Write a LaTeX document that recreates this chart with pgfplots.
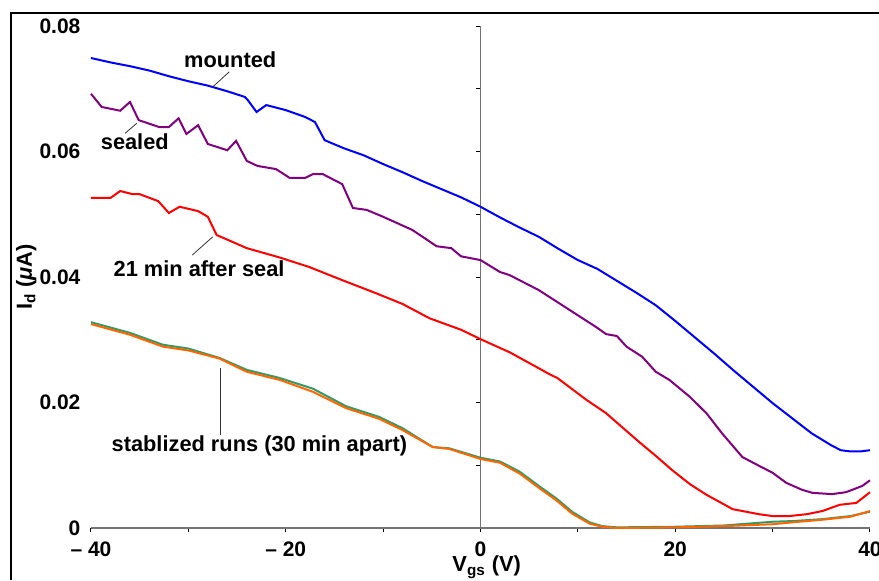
\documentclass[border=0pt]{standalone}
\usepackage{fontspec}
\setmainfont{Liberation Sans}
\usepackage{pgfplots}
\pgfplotsset{compat=1.18}
\definecolor{cblue}{RGB}{0,0,255}
\definecolor{cpurple}{RGB}{128,0,128}
\definecolor{cred}{RGB}{255,0,0}
\definecolor{cgreen}{RGB}{51,153,102}
\definecolor{corange}{RGB}{255,102,0}
\begin{document}
\begin{tikzpicture}
\path[use as bounding box] (0,0) rectangle (439.5pt,290pt);
\draw[black, line width=1pt] (5.5pt,0) -- (5.5pt,283.5pt) -- (439.5pt,283.5pt);
\begin{axis}[
  at={(45.5pt,26pt)}, anchor=south west,
  scale only axis, width=389.5pt, height=251pt,
  xmin=-40, xmax=40, ymin=0, ymax=0.08,
  scaled y ticks=false, scaled x ticks=false,
  axis lines=middle,
  axis line style={-, gray!90!black, line width=0.8pt},
  hide obscured x ticks=false, hide obscured y ticks=false,
  tick align=outside,
  major tick length=2pt, minor tick length=2pt,
  tick style={black, line width=0.5pt},
  xtick={-40,-20,0,20,40},
  xticklabels={\textbf{– 40},\textbf{– 20},\textbf{0},\textbf{20},\textbf{40}},
  minor xtick={-30,-10,10,30},
  ytick={0,0.02,0.04,0.06,0.08},
  yticklabels={\textbf{0},\textbf{0.02},\textbf{0.04},\textbf{0.06},\textbf{0.08}},
  minor ytick={0.01,0.03,0.05,0.07},
  ticklabel style={font=\fontsize{10.5}{12}\selectfont},
  yticklabel style={anchor=east, xshift=-194.5pt},
  xticklabel style={anchor=north, yshift=-1.5pt},
  clip=false,
  every axis plot/.append style={line width=1pt, no markers},
]
% stablized run 1 (green)
\addplot[cgreen] coordinates {
(-40,0.0328) (-36,0.0311) (-32.6,0.0292) (-30,0.0286) (-26.8,0.0271) (-24,0.0252)
(-20.6,0.0239) (-17.2,0.0222) (-13.8,0.0194) (-10.4,0.0177) (-8,0.0159) (-4.9,0.0129)
(-3.2,0.0127) (0,0.0112) (2,0.0106) (4,0.0090) (6,0.0067) (7.8,0.0047) (9.4,0.0026)
(11.2,0.0009) (12.5,0.0003) (14,0.0001) (20,0.0002) (25,0.0004) (30,0.0010) (32,0.0011)
(35,0.0014) (38,0.0019) (40,0.0026)};
% stablized run 2 (orange)
\addplot[corange] coordinates {
(-40,0.0325) (-36,0.0308) (-32.6,0.0289) (-30,0.0283) (-26.8,0.0270) (-24,0.0249)
(-20.6,0.0236) (-17.2,0.0217) (-13.8,0.0191) (-10.4,0.0174) (-8,0.0156) (-4.9,0.0129)
(-3.2,0.0126) (0,0.0110) (2,0.0104) (4,0.0087) (6,0.0064) (7.8,0.0044) (9.4,0.0023)
(11.2,0.0007) (12.5,0.0002) (14,0.0000) (20,0.0001) (25,0.0003) (30,0.0006) (32,0.0009)
(35,0.0013) (38,0.0018) (40,0.0027)};
% 21 min after seal (red)
\addplot[cred] coordinates {
(-40,0.0526) (-38,0.0526) (-37,0.0537) (-35.7,0.0532) (-35,0.0532) (-33.1,0.0521)
(-32,0.0502) (-30.9,0.0512) (-29,0.0505) (-28,0.0496) (-27.1,0.0467) (-24,0.0446)
(-20.6,0.0431) (-17.6,0.0416) (-14.2,0.0395) (-10.7,0.0374) (-8,0.0357) (-5.2,0.0334)
(-2,0.0316) (0,0.0301) (3,0.0280) (5,0.0263) (7.1,0.0245) (7.9,0.0239) (10.9,0.0204)
(12.9,0.0183) (14.3,0.0164) (16.3,0.0137) (18,0.0115) (19.7,0.0092) (21.5,0.0070)
(23.2,0.0053) (24.5,0.0042) (25.9,0.0030) (28.6,0.0022) (30,0.0019) (31.7,0.0019)
(33.5,0.0022) (35.1,0.0027) (36.9,0.0037) (38.6,0.0040) (40,0.0057)};
% sealed (purple)
\addplot[cpurple] coordinates {
(-40,0.0692) (-38.9,0.0671) (-37,0.0665) (-36,0.0679) (-35.1,0.0650) (-33,0.0639)
(-32,0.0639) (-31,0.0653) (-30.2,0.0628) (-29,0.0642) (-28,0.0612) (-26,0.0602)
(-25.1,0.0617) (-24,0.0585) (-22.9,0.0577) (-21,0.0572) (-19.6,0.0558) (-18,0.0558)
(-17.2,0.0564) (-16.2,0.0564) (-14.2,0.0548) (-13.1,0.0510) (-11.7,0.0507) (-10,0.0496)
(-7,0.0475) (-4.5,0.0449) (-3,0.0446) (-2,0.0433) (0,0.0427) (2,0.0408) (3,0.0403)
(6,0.0379) (9.5,0.0344) (11.9,0.0320) (12.9,0.0309) (14,0.0306) (15,0.0289)
(16.6,0.0273) (18,0.0249) (19.4,0.0236) (21.5,0.0209) (23.2,0.0183) (24.8,0.0151)
(26.9,0.0113) (28.5,0.0100) (30,0.0088) (31.4,0.0072) (33,0.0061) (34.1,0.0056)
(36.1,0.0054) (37.5,0.0057) (38.2,0.0061) (39.2,0.0067) (40,0.0076)};
% mounted (blue)
\addplot[cblue] coordinates {
(-40,0.0749) (-38,0.0742) (-36,0.0736) (-34,0.0729) (-32,0.0720) (-30,0.0712)
(-28,0.0705) (-26,0.0696) (-24.2,0.0687) (-23.9,0.0682) (-23,0.0663) (-22,0.0674)
(-20,0.0666) (-18,0.0655) (-17,0.0647) (-16,0.0618) (-14,0.0605) (-12,0.0594)
(-10,0.0580) (-8,0.0567) (-6,0.0553) (-4,0.0540) (-2,0.0527) (0,0.0512) (2,0.0495)
(4,0.0479) (6,0.0464) (8,0.0445) (10,0.0427) (12,0.0413) (14,0.0394) (16,0.0375)
(18,0.0355) (20,0.0330) (22,0.0304) (24,0.0278) (26,0.0251) (28,0.0225) (30,0.0199)
(32,0.0175) (34,0.0151) (36,0.0132) (37,0.0124) (38,0.0122) (39,0.0122) (40,0.0124)};
% annotations
\begin{scope}[every node/.style={font=\fontsize{10.9}{13}\selectfont\bfseries, inner sep=0pt}]
\node at (axis cs:-25.7,0.0747) {mounted};
\node at (axis cs:-35.5,0.0615) {sealed};
\node at (axis cs:-28.9,0.0413) {21 min after seal};
\node at (axis cs:-22.7,0.0131) {stablized runs (30 min apart)};
\node[rotate=90] at (axis description cs:-0.083,0.5) {I\textsubscript{d} (\textit{μ}A)};
\node at (axis description cs:0.508,-0.078) {V\textsubscript{gs} (V)};
\end{scope}
\draw[black!80, line width=0.4pt] (axis cs:-25.8,0.0727) -- (axis cs:-27.5,0.0703);
\draw[black!80, line width=0.4pt] (axis cs:-35.3,0.0645) -- (axis cs:-36.5,0.0629);
\draw[black!80, line width=0.4pt] (axis cs:-27.5,0.0464) -- (axis cs:-29.6,0.0435);
\draw[black!80, line width=0.4pt] (axis cs:-26.7,0.0255) -- (axis cs:-26.7,0.0148);
\end{axis}
\end{tikzpicture}
\end{document}
